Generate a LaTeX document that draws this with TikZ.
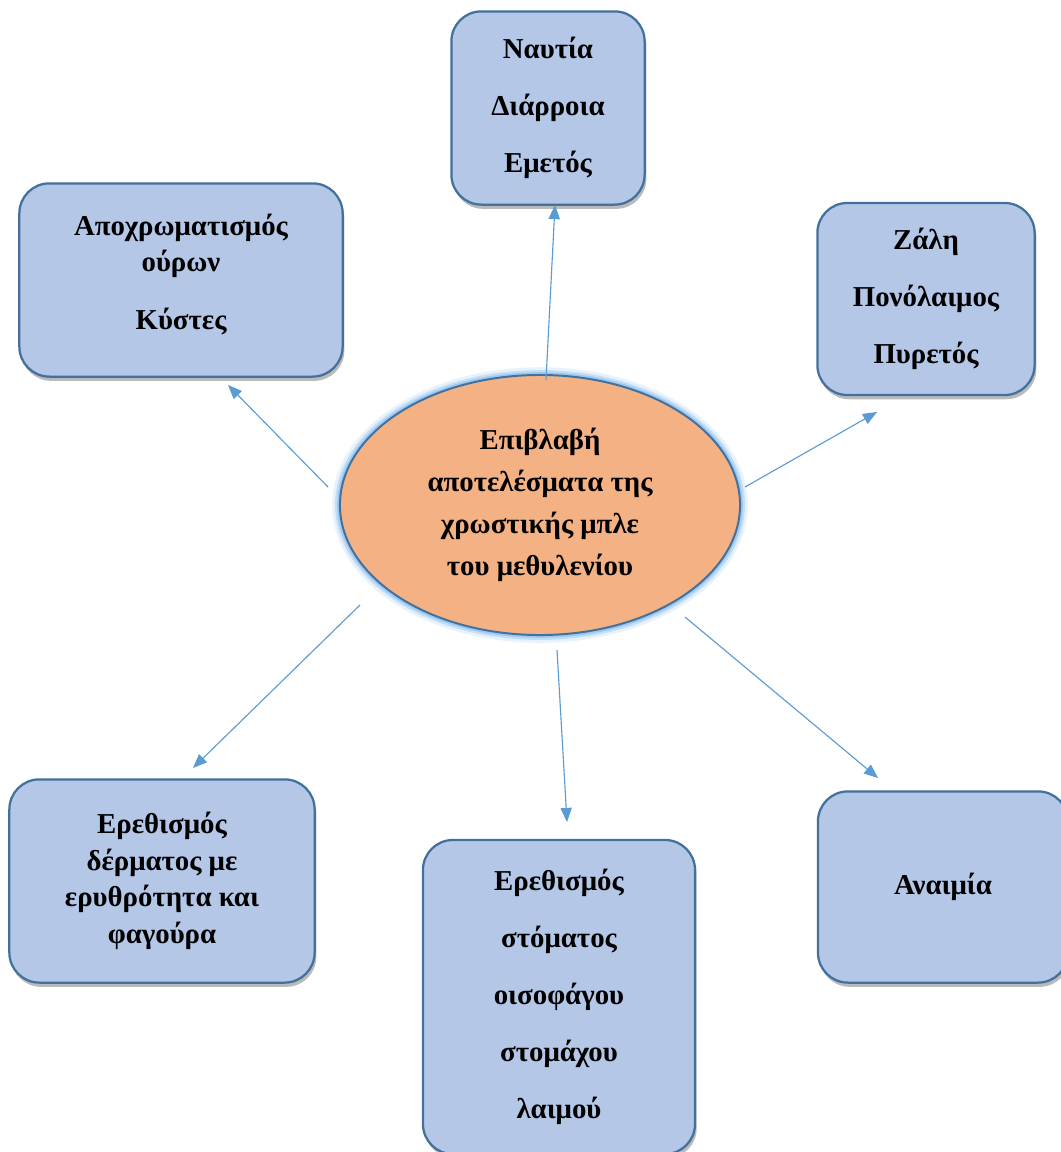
\documentclass[tikz,border=0pt]{standalone}
\usepackage{fontspec}
\setmainfont{Liberation Serif}
\usetikzlibrary{shapes.geometric,shadows,arrows.meta}
\definecolor{boxfill}{HTML}{B4C7E7}
\definecolor{boxline}{HTML}{41719C}
\definecolor{corefill}{HTML}{F4B183}
\definecolor{coreglow}{HTML}{8CC0F0}
\definecolor{linkblue}{HTML}{5B9BD5}

\begin{document}
\begin{tikzpicture}[x=0.025cm, y=-0.025cm,
  effect/.style = {draw = boxline, line width = 1.6pt, fill = boxfill, rounded corners = 0.75cm,
    align = center, inner sep = 0pt,
    drop shadow = {shadow xshift = 1.2pt, shadow yshift = -3pt, opacity = 0.45, fill = black!60},
    font = \bfseries\fontsize{20.5}{40.5}\selectfont},
  tight/.style = {font = \bfseries\fontsize{20.5}{26}\selectfont},
  link/.style = {draw = linkblue, line width = 0.8pt, -{Triangle[length = 10pt, width = 8pt]}}]
\fill[white] (0,0) rectangle (1060,1152);
\useasboundingbox (0,0) rectangle (1060,1152);

% glow round the centre
\foreach \w/\o in {11/0.2, 7/0.4, 4/0.7}
  \draw[coreglow, line width = \w pt, opacity = \o] (540,505) ellipse [x radius = 5cm, y radius = 3.25cm];
\node[ellipse, draw = boxline, line width = 1.4pt, fill = corefill, minimum width = 10cm, minimum height = 6.5cm,
  inner sep = 0pt, align = center, font = \bfseries\fontsize{20.5}{30}\selectfont] (core) at (540,505)
  {Επιβλαβή\\αποτελέσματα της\\χρωστικής μπλε\\του μεθυλενίου};

\node[effect, minimum width = 4.83cm, minimum height = 4.83cm] (nausea) at (548,108) {Ναυτία\\Διάρροια\\Εμετός};
\node[effect, tight, minimum width = 8.08cm, minimum height = 4.83cm] (urine) at (181,280) {Αποχρωματισμός\\ούρων\\[15pt]Κύστες\\[-22pt]\strut};
\node[effect, minimum width = 5.43cm, minimum height = 4.8cm] (dizzy) at (926,299) {Ζάλη\\Πονόλαιμος\\Πυρετός};
\node[effect, tight, minimum width = 7.63cm, minimum height = 5.08cm] (skin) at (162,881) {Ερεθισμός\\δέρματος με\\ερυθρότητα και\\φαγούρα};
\node[effect, minimum width = 6.8cm, minimum height = 7.85cm] (mouth) at (559,997) {Ερεθισμός\\στόματος\\οισοφάγου\\στομάχου\\λαιμού};
\node[effect, minimum width = 6.25cm, minimum height = 4.78cm] (anemia) at (943,887) {Αναιμία};

% connectors
\coordinate (core-n) at (546,380);   \coordinate (nausea-s) at (555,205);
\coordinate (core-nw) at (328,487);  \coordinate (urine-s) at (228,385);
\coordinate (core-ne) at (745,487);  \coordinate (dizzy-s) at (877,412);
\coordinate (core-sw) at (360,605);  \coordinate (skin-n) at (193,768);
\coordinate (core-s) at (557,650);   \coordinate (mouth-n) at (567,822);
\coordinate (core-se) at (685,617);  \coordinate (anemia-n) at (878,778);
\draw[link] (core-n) -- (nausea-s);
\draw[link] (core-nw) -- (urine-s);
\draw[link] (core-ne) -- (dizzy-s);
\draw[link] (core-sw) -- (skin-n);
\draw[link] (core-s) -- (mouth-n);
\draw[link] (core-se) -- (anemia-n);
\end{tikzpicture}
\end{document}
